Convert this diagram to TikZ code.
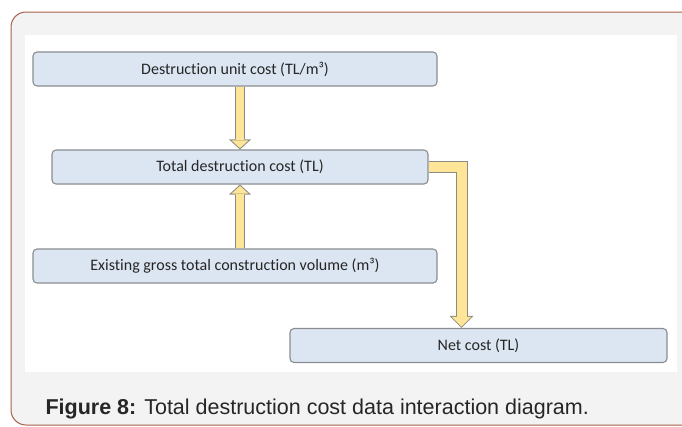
\documentclass[tikz,border=0pt]{standalone}
\usepackage{fontspec}
\setmainfont{Carlito}[Ligatures=NoCommon]
\newfontfamily\captionfont{Liberation Sans}
\usetikzlibrary{arrows.meta}
\definecolor{FIGframe}{HTML}{A85F4A}
\definecolor{FIGback}{HTML}{F3F3F3}
\definecolor{FIGboxfill}{HTML}{DCE6F2}
\definecolor{FIGboxline}{HTML}{8A8D91}
\definecolor{FIGarrowfill}{HTML}{FFE597}
\definecolor{FIGarrowline}{HTML}{8C8B80}
\definecolor{FIGtext}{HTML}{262626}

\tikzset{
  costbox/.style={draw=FIGboxline, fill=FIGboxfill, line width=1.1pt, rounded corners=4pt,
    minimum height=34pt, inner sep=0pt, text=FIGtext, font=\fontsize{16}{18}\selectfont},
  flow/.style={draw=FIGarrowline, line width=10pt, line join=miter,
    -{Triangle[length=10pt,width=22pt,line width=0pt]},
    postaction={draw=FIGarrowfill, line width=8pt, line join=miter,
      -{Triangle[length=7.65pt,width=16.8pt,line width=0pt]}, shorten >=1.35pt}},
  bigflow/.style={draw=FIGarrowline, line width=12pt, line join=miter,
    -{Triangle[length=12pt,width=24pt,line width=0pt]},
    postaction={draw=FIGarrowfill, line width=10pt, line join=miter,
      -{Triangle[length=9.6pt,width=19.2pt,line width=0pt]}, shorten >=1.41pt}}
}

\begin{document}
\begin{tikzpicture}[x=1pt,y=-1pt]
\useasboundingbox (0,0) rectangle (682,426);

% Frame
\draw[draw=FIGframe, fill=FIGback, line width=1pt, rounded corners=15pt] (11,12) rectangle (700,425);
\fill[white] (25,35) rectangle (677,372);

% Boxes
\node[costbox, minimum width=404pt] (unitcost) at (235,69) {Destruction unit cost (TL/m³)};
\node[costbox, minimum width=376pt] (total) at (240,167) {Total destruction cost (TL)};
\node[costbox, minimum width=404pt] (volume) at (235,266) {Existing gross total construction volume (m³)};
\node[costbox, minimum width=377pt] (net) at (478.5,345.5) {Net cost (TL)};

% Arrows
\draw[flow] (total.north |- unitcost.south) -- (total.north);
\draw[flow] (total.south |- volume.north) -- (total.south);
\draw[bigflow] (total.east) -| ([xshift=-17pt]net.north);

\node[anchor=base west, text=FIGtext, font=\captionfont\fontsize{21.5}{24}\selectfont] (caption) at (42,414)
  {\textbf{Figure 8:} Total destruction cost data interaction diagram.};

\end{tikzpicture}
\end{document}
